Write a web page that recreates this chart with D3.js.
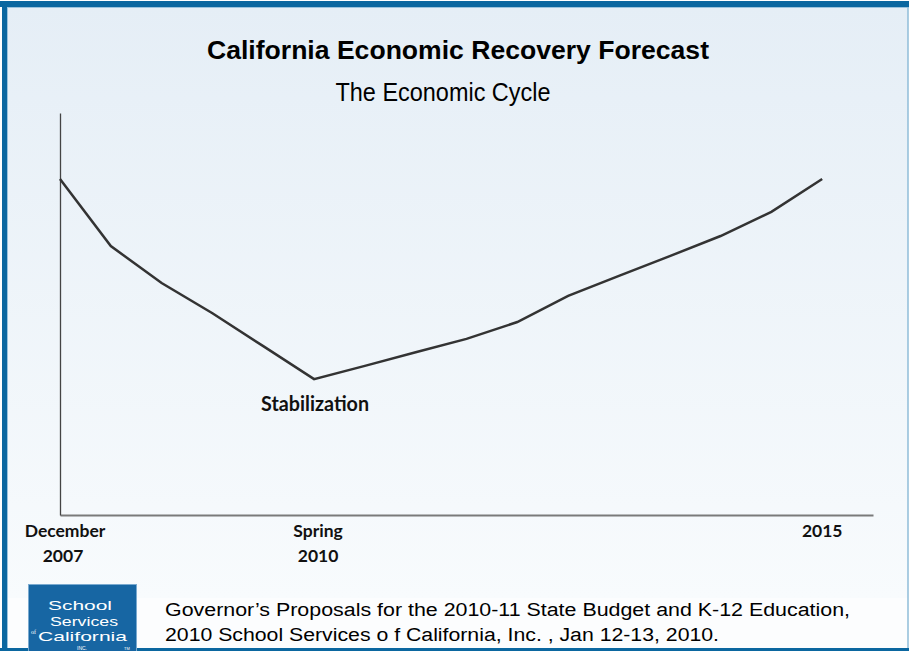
<!DOCTYPE html>
<html><head><meta charset="utf-8">
<script src="https://cdn.jsdelivr.net/npm/d3@7"></script>
<style>html,body{margin:0;padding:0;background:#fff;}svg{display:block;}</style>
</head><body>
<svg id="c" width="909" height="651"></svg>
<script>
const periods = d3.range(16);
const cycleValues = [83.6, 66.9, 57.7, 50.2, 42.0, 33.8, 37.1, 40.5, 43.8, 48.0, 54.5, 59.5, 64.4, 69.4, 75.4, 83.6];
const tickIndex = [0, 5, 15];
const tickLabels = [["December", "2007"], ["Spring", "2010"], ["2015"]];
const title = "California Economic Recovery Forecast";
const subtitle = "The Economic Cycle";
const annotation = "Stabilization";
const annotationIndex = 5;
const footerLines = ["Governor\u2019s Proposals for the 2010-11 State Budget and K-12 Education,",
                     "2010 School Services o f California, Inc. , Jan 12-13, 2010."];
const logoLines = ["School", "Services", "California"];

const svg = d3.select("#c");
const W = 909, H = 651;
const defs = svg.append("defs");
const grad = defs.append("linearGradient").attr("id", "bg").attr("x1", 0).attr("y1", 0).attr("x2", 0).attr("y2", 1);
grad.append("stop").attr("offset", "0%").attr("stop-color", "#e5eef6");
grad.append("stop").attr("offset", "100%").attr("stop-color", "#f8fbfd");

svg.append("rect").attr("width", W).attr("height", H).attr("fill", "#ffffff");
svg.append("rect").attr("x", 7).attr("y", 6).attr("width", W - 8).attr("height", 592).attr("fill", "url(#bg)");
svg.append("rect").attr("x", 7).attr("y", 598).attr("width", W - 8).attr("height", 50).attr("fill", "#fcfdfe");

// frame
const blue = "#0b67a0";
svg.append("rect").attr("x", 0).attr("y", 1).attr("width", W).attr("height", 6).attr("fill", blue);
svg.append("rect").attr("x", 2).attr("y", 1).attr("width", 5).attr("height", H).attr("fill", blue);
svg.append("line").attr("x1", 7.5).attr("x2", 7.5).attr("y1", 7).attr("y2", H).attr("stroke", "#9cc3dd").attr("stroke-width", 1);
svg.append("line").attr("x1", 8).attr("x2", W).attr("y1", 7.5).attr("y2", 7.5).attr("stroke", "#9cc3dd").attr("stroke-width", 1);
svg.append("line").attr("x1", 908).attr("x2", 908).attr("y1", 7).attr("y2", H).attr("stroke", "#8fbcd9").attr("stroke-width", 1.5);
svg.append("rect").attr("x", 0).attr("y", 648).attr("width", W).attr("height", 3).attr("fill", blue);

// titles
svg.append("text").attr("x", 458).attr("y", 59).attr("text-anchor", "middle")
  .attr("font-family", "Liberation Sans, Arial, sans-serif").attr("font-weight", "bold").attr("font-size", 25)
  .attr("textLength", 502).attr("lengthAdjust", "spacingAndGlyphs").attr("fill", "#000").text(title);
svg.append("text").attr("x", 443).attr("y", 101).attr("text-anchor", "middle")
  .attr("font-family", "Liberation Sans, Arial, sans-serif").attr("font-size", 25)
  .attr("textLength", 215).attr("lengthAdjust", "spacingAndGlyphs").attr("fill", "#000").text(subtitle);

// scales
const x = d3.scaleLinear().domain([0, 16]).range([60, 873]);
const y = d3.scaleLinear().domain([0, 100]).range([515, 113]);

// axes
const xAxis = svg.append("g").attr("transform", `translate(0,${y(0)})`)
  .call(d3.axisBottom(x).tickValues([]).tickSizeOuter(0));
xAxis.select(".domain").attr("stroke", "#7a7a7a").attr("stroke-width", 2);
const yAxis = svg.append("g").attr("transform", `translate(${x(0)},0)`)
  .call(d3.axisLeft(y).tickValues([]).tickSizeOuter(0));
yAxis.select(".domain").attr("stroke", "#444").attr("stroke-width", 1.3);

// tick labels
const tl = svg.append("g").selectAll("text").data(tickIndex).join("text")
  .attr("text-anchor", "middle")
  .attr("font-family", "Lato, Liberation Sans, sans-serif").attr("font-weight", "bold").attr("font-size", 17.5)
  .attr("fill", "#111");
tl.each(function(d, i) {
  const t = d3.select(this);
  tickLabels[i].forEach((s, j) => {
    t.append("tspan").attr("x", x(d) + (i === 0 ? (j === 0 ? 5 : 3) : i === 1 ? 4 : 0)).attr("y", y(0) + 22 + j * 25).text(s);
  });
});

// line
const line = d3.line().x((d, i) => x(periods[i])).y(d => y(d));
svg.append("path").datum(cycleValues).attr("d", line)
  .attr("fill", "none").attr("stroke", "#333").attr("stroke-width", 2.5).attr("stroke-linejoin", "miter");

// annotation
svg.append("text").attr("x", x(annotationIndex) + 1).attr("y", y(cycleValues[annotationIndex]) + 32)
  .attr("text-anchor", "middle").attr("font-family", "Lato, Liberation Sans, sans-serif").attr("font-weight", "bold")
  .attr("font-size", 20).attr("textLength", 108).attr("lengthAdjust", "spacingAndGlyphs")
  .attr("fill", "#111").text(annotation);

// logo
const logo = svg.append("g");
logo.append("rect").attr("x", 28).attr("y", 584).attr("width", 109).attr("height", 67).attr("fill", "#1766a3");
logo.append("rect").attr("x", 28.5).attr("y", 584.5).attr("width", 108).attr("height", 67).attr("fill", "none").attr("stroke", "#7aaad0").attr("stroke-width", 1);
const logoPos = [[48, 610, 64], [50, 625.5, 68], [38, 641, 89]];
logo.selectAll("text.l").data(logoLines).join("text").attr("class", "l")
  .attr("x", (d, i) => logoPos[i][0]).attr("y", (d, i) => logoPos[i][1])
  .attr("font-family", "Liberation Sans, sans-serif").attr("font-size", 13.5)
  .attr("textLength", (d, i) => logoPos[i][2]).attr("lengthAdjust", "spacingAndGlyphs")
  .attr("fill", "#fff").text(d => d);
logo.append("text").attr("x", 31).attr("y", 634).attr("font-family", "Liberation Serif, serif").attr("font-size", 6).attr("fill", "#fff").text("of");
logo.append("text").attr("x", 77).attr("y", 650).attr("font-family", "Liberation Sans, sans-serif").attr("font-size", 5).attr("fill", "#fff").text("INC.");
logo.append("text").attr("x", 124).attr("y", 650).attr("font-family", "Liberation Sans, sans-serif").attr("font-size", 4).attr("fill", "#fff").text("TM");

// footer
svg.append("g").selectAll("text").data(footerLines).join("text")
  .attr("x", 165).attr("y", (d, i) => 616 + i * 25)
  .attr("font-family", "Liberation Sans, Arial, sans-serif").attr("font-size", 18).attr("fill", "#000")
  .attr("textLength", (d, i) => i === 0 ? 685 : 554).attr("lengthAdjust", "spacingAndGlyphs")
  .text(d => d);
</script>
</body></html>
